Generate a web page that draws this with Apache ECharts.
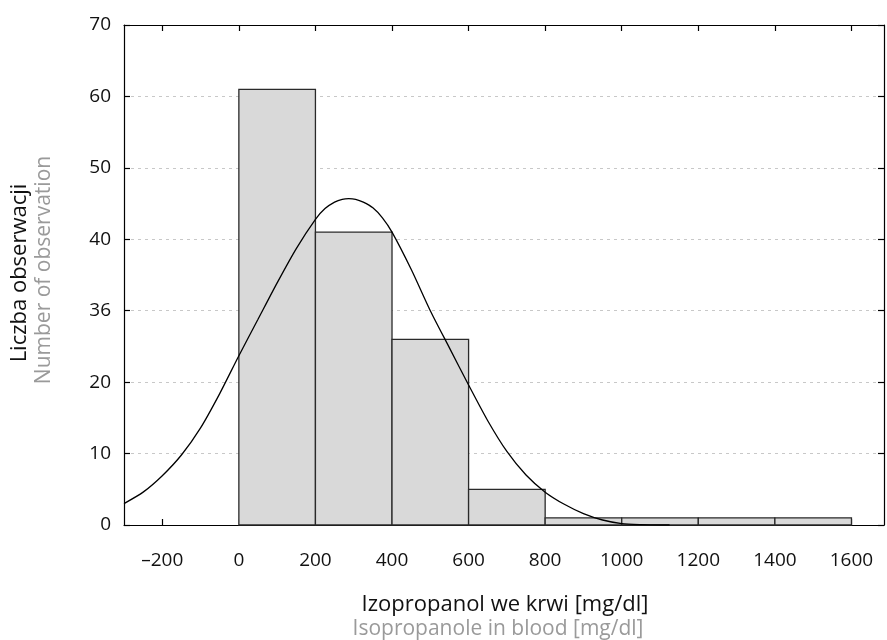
<!DOCTYPE html>
<html>
<head>
<meta charset="utf-8">
<script src="https://cdn.jsdelivr.net/npm/echarts@6/dist/echarts.min.js"></script>
<style>
html,body{margin:0;padding:0;background:#fff;}
#c{width:887px;height:640px;}
</style>
</head>
<body>
<div id="c"></div>
<script>
// Histogram bins: [from, to, count]
const binStarts = [0, 200, 400, 600, 800, 1000, 1200, 1400];
const binEnds   = [200, 400, 600, 800, 1000, 1200, 1400, 1600];
const binCounts = [61, 41, 26, 5, 1, 1, 1, 1];

// Fitted curve: x value, y count
const curveX = [-300, -250, -200, -150, -100, -50, 0, 50, 100, 150, 200, 225, 250, 270, 287, 305, 325, 350, 375, 400, 450, 500, 550, 600, 650, 700, 750, 800, 850, 900, 950, 1000, 1050, 1100, 1125];
const curveY = [3.0, 4.6, 6.9, 9.8, 13.6, 18.4, 23.7, 28.8, 33.9, 38.7, 42.8, 44.3, 45.2, 45.6, 45.7, 45.6, 45.2, 44.4, 43.0, 41.0, 35.8, 30.0, 24.8, 19.6, 14.6, 10.3, 7.0, 4.6, 2.9, 1.6, 0.7, 0.2, 0.05, 0.0, 0.0];

const xTicks = [-200, 0, 200, 400, 600, 800, 1000, 1200, 1400, 1600];
const yTickLabels = ['0', '10', '20', '36', '40', '50', '60', '70'];

const xTitle1 = 'Izopropanol we krwi [mg/dl]';
const xTitle2 = 'Isopropanole in blood [mg/dl]';
const yTitle1 = 'Liczba obserwacji';
const yTitle2 = 'Number of observation';

const FONT = '"Open Sans", Lato, sans-serif';

const bins = binStarts.map((s, i) => [s, binEnds[i], binCounts[i]]);
const curve = curveX.map((x, i) => [x, curveY[i]]);

const chart = echarts.init(document.getElementById('c'), null, {renderer: 'canvas'});

const lineSt = {color: '#000', width: 1.2};
const xBase = {
  type: 'value', min: -300, max: 1685,
  axisLine: {show: true, onZero: false, lineStyle: lineSt},
  splitLine: {show: false},
};
const yBase = {
  type: 'value', min: 0, max: 70, interval: 10,
  axisLine: {show: true, onZero: false, lineStyle: lineSt},
  axisTick: {show: true, inside: true, length: 6, lineStyle: lineSt},
};

chart.setOption({
  animation: false,
  backgroundColor: '#fff',
  grid: {left: 124, right: 3, top: 25, bottom: 115, containLabel: false},
  xAxis: [
    Object.assign({}, xBase, {
      position: 'bottom',
      axisTick: {show: true, inside: true, length: 6, customValues: xTicks, lineStyle: lineSt},
      axisLabel: {
        show: true, customValues: xTicks, margin: 26,
        fontFamily: FONT, fontSize: 19, color: '#111',
        formatter: v => v < 0 ? '\u2013' + Math.abs(v) : String(v)
      }
    }),
    Object.assign({}, xBase, {
      position: 'top',
      axisTick: {show: true, inside: true, length: 6, customValues: xTicks, lineStyle: lineSt},
      axisLabel: {show: false}
    })
  ],
  yAxis: [
    Object.assign({}, yBase, {
      position: 'left',
      axisLabel: {
        margin: 13, fontFamily: FONT, fontSize: 19, color: '#111',
        formatter: v => yTickLabels[Math.round(v / 10)]
      },
      splitLine: {show: true, lineStyle: {color: '#c8c8c8', type: [3, 4], width: 1}}
    }),
    Object.assign({}, yBase, {
      position: 'right',
      axisLabel: {show: false},
      splitLine: {show: false}
    })
  ],
  series: [
    {
      type: 'custom',
      xAxisIndex: 0, yAxisIndex: 0,
      data: bins,
      z: 2,
      renderItem: function (params, api) {
        const p0 = api.coord([api.value(0), 0]);
        const p1 = api.coord([api.value(1), api.value(2)]);
        return {
          type: 'rect',
          shape: {x: p0[0], y: p1[1], width: p1[0] - p0[0], height: p0[1] - p1[1]},
          style: {fill: '#d9d9d9', stroke: '#2a2a2a', lineWidth: 1.3}
        };
      },
      encode: {x: [0, 1], y: 2}
    },
    {
      type: 'line',
      xAxisIndex: 0, yAxisIndex: 0,
      data: curve,
      smooth: 0.25,
      showSymbol: false,
      symbol: 'none',
      z: 3,
      lineStyle: {color: '#000', width: 1.3}
    }
  ],
  graphic: [
    {type: 'text', x: 505, y: 605, style: {text: xTitle1, font: '22px ' + FONT, fill: '#111', align: 'center', verticalAlign: 'middle'}},
    {type: 'text', x: 498, y: 629, style: {text: xTitle2, font: '21px ' + FONT, fill: '#9a9a9a', align: 'center', verticalAlign: 'middle'}},
    {type: 'text', x: 20, y: 273, rotation: Math.PI / 2, style: {text: yTitle1, font: '22px ' + FONT, fill: '#111', align: 'center', verticalAlign: 'middle'}},
    {type: 'text', x: 44, y: 270, rotation: Math.PI / 2, style: {text: yTitle2, font: '21px ' + FONT, fill: '#9a9a9a', align: 'center', verticalAlign: 'middle'}}
  ]
});
</script>
</body>
</html>
